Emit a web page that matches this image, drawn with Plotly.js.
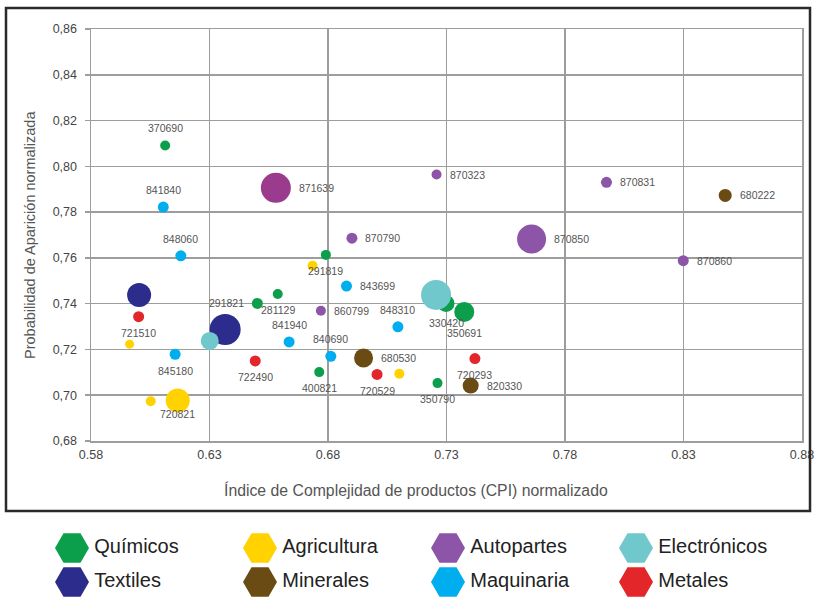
<!DOCTYPE html>
<html><head><meta charset="utf-8">
<script src="https://cdn.plot.ly/plotly-3.0.1.min.js"></script>
<style>html,body{margin:0;padding:0;background:#fff}#chart{width:816px;height:601px}</style>
</head><body><div id="chart"></div>
<script>
// ---------- DATA ----------
const categories = ['Químicos','Agricultura','Autopartes','Electrónicos','Textiles','Minerales','Maquinaria','Metales'];

const xTicks = [0.58, 0.63, 0.68, 0.73, 0.78, 0.83, 0.88];
const xTickLabels = ['0.58','0.63','0.68','0.73','0.78','0.83','0.88'];
const yTicks = [0.68, 0.70, 0.72, 0.74, 0.76, 0.78, 0.80, 0.82, 0.84, 0.86];
const yTickLabels = ['0,68','0,70','0,72','0,74','0,76','0,78','0,80','0,82','0,84','0,86'];

const quimicosX = [0.6113, 0.6791, 0.6588, 0.6502, 0.6763, 0.7298, 0.7375, 0.7262];
const quimicosY = [0.8091, 0.7613, 0.7442, 0.7401, 0.7101, 0.7401, 0.7364, 0.7053];
const quimicosBubble = [10, 10, 10, 11, 10, 17, 20, 10];
const quimicosCodes = ['370690','291819','281129','291821','400821','330420','350691','350790'];

const agriculturaX = [0.6735, 0.5963, 0.6052, 0.6166, 0.7101];
const agriculturaY = [0.7566, 0.7223, 0.6974, 0.6977, 0.7094];
const agriculturaBubble = [10, 9, 10, 24, 10];
const agriculturaCodes = ['', '', '', '720821', ''];

const autopartesX = [0.6580, 0.7258, 0.6901, 0.6770, 0.7975, 0.7659, 0.8299];
const autopartesY = [0.7906, 0.7964, 0.7686, 0.7369, 0.7930, 0.7682, 0.7588];
const autopartesBubble = [30, 10, 11, 10, 11, 29, 11];
const autopartesCodes = ['871639','870323','870790','860799','870831','870850','870860'];

const mineralesX = [0.8476, 0.6950, 0.7402];
const mineralesY = [0.7873, 0.7163, 0.7042];
const mineralesBubble = [13, 19, 16];
const mineralesCodes = ['680222','680530','820330'];

const maquinariaX = [0.6105, 0.6179, 0.6878, 0.7095, 0.6636, 0.6812, 0.6155];
const maquinariaY = [0.7822, 0.7609, 0.7477, 0.7299, 0.7233, 0.7170, 0.7179];
const maquinariaBubble = [11, 11, 11, 11, 11, 11, 11];
const maquinariaCodes = ['841840','848060','843699','848310','841940','840690','845180'];

const metalesX = [0.6001, 0.6493, 0.7007, 0.7420];
const metalesY = [0.7343, 0.7150, 0.7091, 0.7160];
const metalesBubble = [11, 11, 11, 11];
const metalesCodes = ['721510','722490','720529','720293'];

const textilesX = [0.6366, 0.6003];
const textilesY = [0.7287, 0.7438];
const textilesBubble = [31, 24];
const textilesCodes = ['', ''];

const electronicosX = [0.7256, 0.6301];
const electronicosY = [0.7438, 0.7237];
const electronicosBubble = [30, 18];
const electronicosCodes = ['', ''];

// ---------- STYLE ----------
const colors = {
  'Químicos':'#0b9f4c', 'Agricultura':'#ffd200', 'Autopartes':'#8c55a8', 'Electrónicos':'#70c7cc',
  'Textiles':'#2b2c8c', 'Minerales':'#6b4b14', 'Maquinaria':'#00aeef', 'Metales':'#e3262a'
};
const autopartesColors = ['#9b3b8d','#8c55a8','#8c55a8','#8c55a8','#8c55a8','#8c55a8','#8c55a8'];
// label placement: a=above, b=below, r=right, l=left
const quimicosPos = ['a','b','b','l','b','b','b','b'];
const agriculturaPos = ['','','','b2',''];
const autopartesPos = ['r','r','r','r','r','r','r'];
const mineralesPos = ['r','r','r'];
const maquinariaPos = ['a','a','r','a','a','a','b'];
const metalesPos = ['b','b','b','b'];
const FONT = '"Liberation Sans", Arial, sans-serif';

const series = [
  {name:'Químicos', x:quimicosX, y:quimicosY, s:quimicosBubble, c:quimicosCodes, p:quimicosPos},
  {name:'Agricultura', x:agriculturaX, y:agriculturaY, s:agriculturaBubble, c:agriculturaCodes, p:agriculturaPos},
  {name:'Autopartes', x:autopartesX, y:autopartesY, s:autopartesBubble, c:autopartesCodes, p:autopartesPos, col:autopartesColors},
  {name:'Minerales', x:mineralesX, y:mineralesY, s:mineralesBubble, c:mineralesCodes, p:mineralesPos},
  {name:'Maquinaria', x:maquinariaX, y:maquinariaY, s:maquinariaBubble, c:maquinariaCodes, p:maquinariaPos},
  {name:'Metales', x:metalesX, y:metalesY, s:metalesBubble, c:metalesCodes, p:metalesPos},
  {name:'Textiles', x:textilesX, y:textilesY, s:textilesBubble, c:textilesCodes, p:['','']},
  {name:'Electrónicos', x:electronicosX, y:electronicosY, s:electronicosBubble, c:electronicosCodes, p:['','']}
];

const traces = [];
const annotations = [];
series.forEach(sr => {
  traces.push({
    type:'scatter', mode:'markers', name:sr.name, x:sr.x, y:sr.y,
    marker:{size:sr.s, color: sr.col || colors[sr.name], opacity:1, line:{width:0}},
    showlegend:false, hoverinfo:'x+y+name', cliponaxis:false
  });
  sr.c.forEach((code, i) => {
    if (!code) return;
    const r = sr.s[i] / 2;
    const pos = sr.p[i];
    const a = {x:sr.x[i], y:sr.y[i], xref:'x', yref:'y', text:code, showarrow:false,
      font:{family:FONT, size:10.5, color:'#555'}, xanchor:'center', yanchor:'middle'};
    if (pos === 'a') { a.yshift = 17; }
    else if (pos === 'b') { a.yshift = -Math.max(16, r + 11); }
    else if (pos === 'b2') { a.yshift = -14; }
    else if (pos === 'r') { a.xanchor = 'left'; a.xshift = r + 6; }
    else if (pos === 'l') { a.xanchor = 'right'; a.xshift = -(r + 6); }
    annotations.push(a);
  });
});

// legend built as a trace on its own hidden axes
traces.push({
  type:'scatter', mode:'markers+text', xaxis:'x2', yaxis:'y2',
  x: categories.map((c, i) => i % 4),
  y: categories.map((c, i) => Math.floor(i / 4)),
  text: categories,
  textposition:'middle right',
  textfont:{family:FONT, size:20, color:'#222'},
  marker:{symbol:'hexagon2', size:34, color: categories.map(c => colors[c]), line:{width:0}},
  showlegend:false, hoverinfo:'skip', cliponaxis:false
});

annotations.push({
  xref:'paper', yref:'paper', x:416/816, y:1-490/601, xanchor:'center', yanchor:'middle',
  text:'Índice de Complejidad de productos (CPI) normalizado', showarrow:false,
  font:{family:FONT, size:15.8, color:'#555'}
});
annotations.push({
  xref:'paper', yref:'paper', x:30/816, y:1-235/601, xanchor:'center', yanchor:'middle',
  text:'Probabilidad de Aparición normalizada', showarrow:false, textangle:-90,
  font:{family:FONT, size:14.5, color:'#555'}
});

const GRID = '#9d9d9d';
const layout = {
  width:816, height:601, margin:{l:0, r:0, t:0, b:0},
  paper_bgcolor:'#fff', plot_bgcolor:'#fff', showlegend:false,
  font:{family:FONT},
  xaxis:{domain:[91/816, 802/816], range:[0.58, 0.88], tickvals:xTicks, ticktext:xTickLabels,
    showgrid:true, gridcolor:GRID, gridwidth:1.5, showline:true, mirror:true, linecolor:GRID, linewidth:1.5,
    zeroline:false, ticks:'', ticklabelstandoff:1, tickfont:{family:FONT, size:12.5, color:'#444'}, anchor:'y', automargin:false},
  yaxis:{domain:[1-441/601, 1-29/601], range:[0.68, 0.86], tickvals:yTicks, ticktext:yTickLabels,
    showgrid:true, gridcolor:GRID, gridwidth:1.5, showline:true, mirror:true, linecolor:GRID, linewidth:1.5,
    zeroline:false, ticks:'outside', ticklen:5, tickwidth:1.5, tickcolor:GRID, ticklabelstandoff:5,
    tickfont:{family:FONT, size:12.5, color:'#444'}, anchor:'x', automargin:false},
  xaxis2:{domain:[0,1], range:[-72/188, (816-72)/188], visible:false, anchor:'y2', fixedrange:true},
  yaxis2:{domain:[0, 86/601], range:[53/34, -33/34], visible:false, anchor:'x2', fixedrange:true},
  annotations: annotations,
  shapes:[{type:'rect', xref:'paper', yref:'paper', x0:6/816, x1:810/816, y0:1-511/601, y1:1-8/601,
    line:{color:'#2a2a2a', width:2.5}, fillcolor:'rgba(0,0,0,0)', layer:'above'}]
};

Plotly.newPlot('chart', traces, layout, {displayModeBar:false, staticPlot:true});
</script></body></html>
